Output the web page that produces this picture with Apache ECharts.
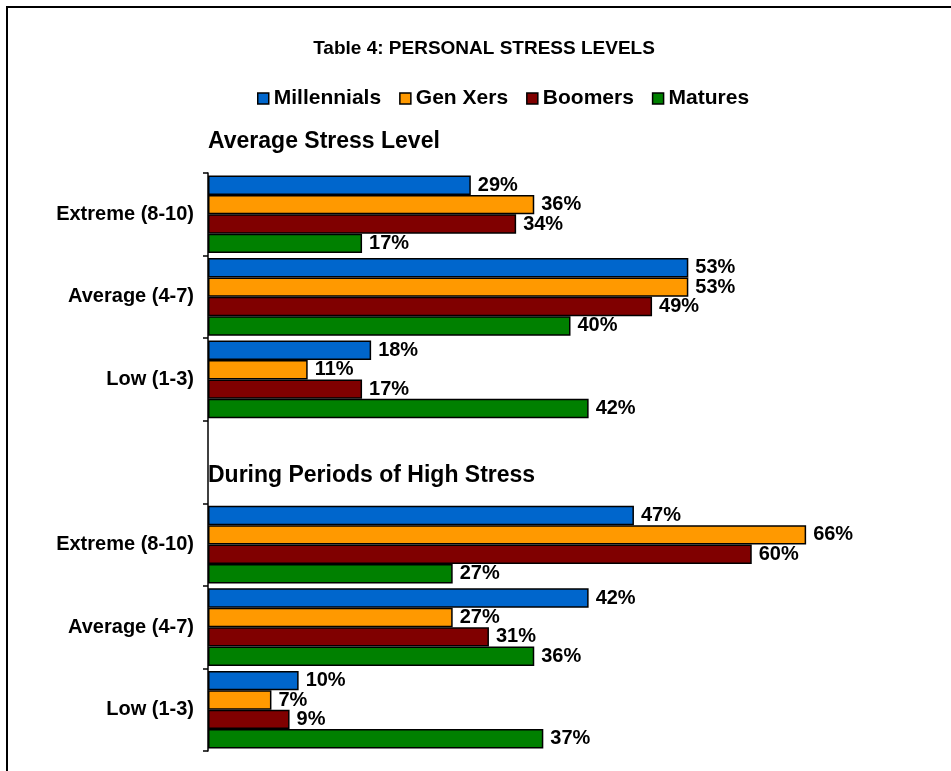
<!DOCTYPE html>
<html>
<head>
<meta charset="utf-8">
<script src="https://cdn.jsdelivr.net/npm/echarts@6/dist/echarts.min.js"></script>
<style>
  html, body { margin: 0; padding: 0; background: #fff; }
  #chart { width: 951px; height: 771px; }
</style>
</head>
<body>
<div id="chart"></div>
<script>
// rows top to bottom, the empty one separates the two blocks
const levels = ['Extreme (8-10)', 'Average (4-7)', 'Low (1-3)', '', 'Extreme (8-10)', 'Average (4-7)', 'Low (1-3)']
const groups = ['Millennials', 'Gen Xers', 'Boomers', 'Matures']
const millennials = [29, 53, 18, null, 47, 42, 10]
const genXers = [36, 53, 11, null, 66, 27, 7]
const boomers = [34, 49, 17, null, 60, 31, 9]
const matures = [17, 40, 42, null, 27, 36, 37]
const blockTitles = ['Average Stress Level', 'During Periods of High Stress']

const colors = ['#0066CC', '#FF9900', '#800000', '#008000']
const values = [millennials, genXers, boomers, matures]
const font = 'Liberation Sans, Arial, sans-serif'

const chart = echarts.init(document.getElementById('chart'))

chart.setOption({
  animation: false,
  textStyle: { fontFamily: font },
  title: [
    {
      text: 'Table 4: PERSONAL STRESS LEVELS',
      left: 484,
      top: 39,
      textAlign: 'center',
      padding: 0,
      textStyle: { fontSize: 19, fontWeight: 'bold', color: '#000', fontFamily: font }
    },
    {
      text: blockTitles[0],
      left: 208,
      top: 130,
      padding: 0,
      textStyle: { fontSize: 23, fontWeight: 'bold', color: '#000', fontFamily: font }
    },
    {
      text: blockTitles[1],
      left: 208,
      top: 464,
      padding: 0,
      textStyle: { fontSize: 23, fontWeight: 'bold', color: '#000', fontFamily: font }
    }
  ],
  legend: {
    data: groups,
    left: 257,
    top: 88,
    padding: 0,
    itemWidth: 11,
    itemHeight: 11,
    itemGap: 18,
    icon: 'rect',
    itemStyle: { borderColor: '#000', borderWidth: 1.5 },
    textStyle: { fontSize: 21, fontWeight: 'bold', color: '#000', fontFamily: font }
  },
  grid: {
    left: 208,
    right: 18,
    top: 173,
    bottom: 20,
    containLabel: false
  },
  xAxis: {
    type: 'value',
    min: 0,
    max: 80,
    show: false,
    splitLine: { show: false }
  },
  yAxis: {
    type: 'category',
    inverse: true,
    data: levels,
    axisLine: { show: true, lineStyle: { color: '#000', width: 1.5 } },
    axisTick: { show: true, length: 5, lineStyle: { color: '#000', width: 1.5 } },
    axisLabel: {
      margin: 14,
      fontSize: 20,
      fontWeight: 'bold',
      color: '#000',
      fontFamily: font
    }
  },
  graphic: [
    {
      type: 'rect',
      silent: true,
      shape: { x: 7, y: 7, width: 1000, height: 1000 },
      style: { fill: 'none', stroke: '#000', lineWidth: 2 }
    }
  ],
  series: groups.map((name, i) => ({
    name: name,
    type: 'bar',
    data: values[i],
    barGap: '0%',
    barCategoryGap: '6%',
    itemStyle: { color: colors[i], borderColor: '#000', borderWidth: 1.5 },
    label: {
      show: true,
      position: 'right',
      distance: 7,
      formatter: '{c}%',
      fontSize: 20,
      fontWeight: 'bold',
      color: '#000',
      fontFamily: font
    }
  }))
})
</script>
</body>
</html>
